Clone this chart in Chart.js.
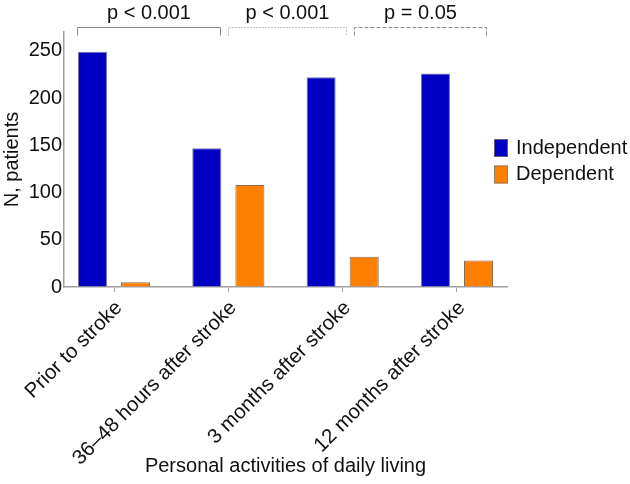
<!DOCTYPE html>
<html>
<head>
<meta charset="utf-8">
<script src="https://cdn.jsdelivr.net/npm/chart.js@4/dist/chart.umd.min.js"></script>
<style>
html,body{margin:0;padding:0;background:#fff;}
#wrap{width:630px;height:484px;position:relative;}
</style>
</head>
<body>
<div id="wrap"><canvas id="c" width="630" height="484"></canvas></div>
<script>
const categories = ["Prior to stroke", "36\u201348 hours after stroke", "3 months after stroke", "12 months after stroke"];
const independent = [249, 147, 222, 226];
const dependent = [5, 108, 32, 28];
const seriesNames = ["Independent", "Dependent"];
const yTicks = [0, 50, 100, 150, 200, 250];
const comparisons = [
  {from: -0.32, to: 0.93, label: "p < 0.001", dash: []},
  {from: 1.0, to: 2.03, label: "p < 0.001", dash: [1, 2]},
  {from: 2.1, to: 3.25, label: "p = 0.05", dash: [4, 2]}
];

const FONT = "'Liberation Sans', Arial, sans-serif";
const BLUE = "#0000c2";
const ORANGE = "#ff8000";
const AXIS = "#a0a0a0";

const bracketPlugin = {
  id: 'brackets',
  afterDraw(chart) {
    const ctx = chart.ctx;
    const xs = chart.scales.x;
    const top = chart.chartArea.top;
    ctx.save();
    ctx.strokeStyle = "#888";
    ctx.lineWidth = 1;
    ctx.fillStyle = "#111";
    ctx.font = "20px " + FONT;
    ctx.textAlign = "center";
    ctx.textBaseline = "alphabetic";
    comparisons.forEach(c => {
      const x1 = Math.round(xs.getPixelForValue(c.from)) + 0.5;
      const x2 = Math.round(xs.getPixelForValue(c.to)) + 0.5;
      const yb = top - 5 + 0.5;
      ctx.setLineDash(c.dash);
      ctx.beginPath();
      ctx.moveTo(x1, yb + 8);
      ctx.lineTo(x1, yb);
      ctx.lineTo(x2, yb);
      ctx.lineTo(x2, yb + 8);
      ctx.stroke();
      ctx.setLineDash([]);
      ctx.fillText(c.label, (x1 + x2) / 2, top - 13);
    });
    ctx.restore();
  }
};

const legendPlugin = {
  id: 'customLegend',
  afterDraw(chart) {
    const ctx = chart.ctx;
    const x0 = chart.chartArea.right - 13;
    const y0 = 139;
    ctx.save();
    ctx.font = "20px " + FONT;
    ctx.textBaseline = "middle";
    ctx.textAlign = "left";
    chart.data.datasets.forEach((ds, i) => {
      const y = y0 + i * 26.5;
      ctx.fillStyle = ds.backgroundColor;
      ctx.fillRect(x0, y, 14, 18);
      ctx.strokeStyle = "#777";
      ctx.lineWidth = 0.8;
      ctx.strokeRect(x0 + 0.5, y + 0.5, 13, 17);
      ctx.fillStyle = "#111";
      ctx.fillText(ds.label, x0 + 22, y + 9);
    });
    ctx.restore();
  }
};

new Chart(document.getElementById('c'), {
  type: 'bar',
  data: {
    datasets: [
      {label: seriesNames[0], data: independent.map((v, i) => ({x: i, y: v})), backgroundColor: BLUE, borderColor: "#7777aa", borderWidth: 1},
      {label: seriesNames[1], data: dependent.map((v, i) => ({x: i, y: v})), backgroundColor: ORANGE, borderColor: "#8a6a50", borderWidth: 1}
    ]
  },
  options: {
    responsive: false,
    animation: false,
    devicePixelRatio: 1,
    categoryPercentage: 0.754,
    barPercentage: 0.674,
    layout: {padding: {top: 32, right: 123, left: 0, bottom: 0}},
    plugins: {legend: {display: false}, tooltip: {enabled: false}},
    scales: {
      x: {
        type: 'linear',
        min: -0.4375,
        max: 3.4375,
        offset: false,
        afterBuildTicks(s) { s.ticks = categories.map((c, i) => ({value: i})); },
        afterFit(s) { s.height = 197; },
        ticks: {
          callback: (v) => categories[v],
          minRotation: 45, maxRotation: 45,
          color: "#111",
          font: {family: FONT, size: 20.5},
          padding: 4,
          labelOffset: 5,
          autoSkip: false
        },
        grid: {display: true, offset: false, drawOnChartArea: false, drawTicks: true, tickLength: 5, color: AXIS},
        border: {color: AXIS, width: 1.5},
        title: {display: true, text: "Personal activities of daily living", color: "#111", font: {family: FONT, size: 20}, padding: {top: 0, bottom: 6}}
      },
      y: {
        min: 0,
        max: 270,
        afterBuildTicks(s) { s.ticks = yTicks.map(v => ({value: v})); },
        afterFit(s) { s.width = 64; },
        ticks: {color: "#111", font: {family: FONT, size: 20}, padding: 2},
        grid: {display: true, drawOnChartArea: false, drawTicks: false, color: AXIS},
        border: {color: AXIS, width: 1.5},
        title: {display: true, text: "N, patients", color: "#111", font: {family: FONT, size: 20}, padding: {top: 0, bottom: 0}}
      }
    }
  },
  plugins: [bracketPlugin, legendPlugin]
});
</script>
</body>
</html>
